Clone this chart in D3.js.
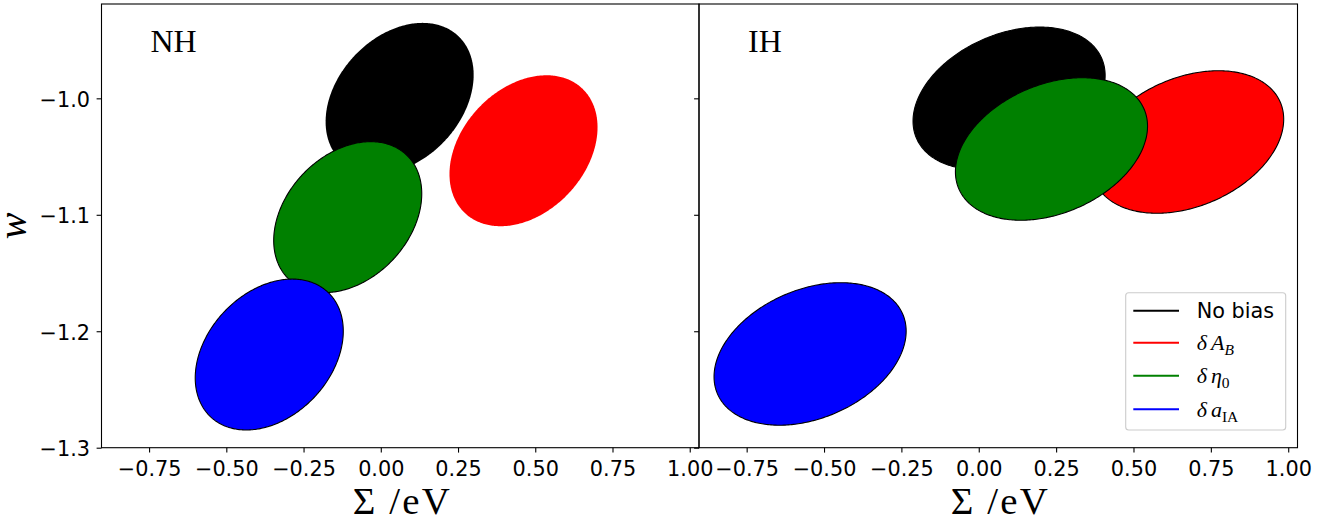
<!DOCTYPE html>
<html><head><meta charset="utf-8">
<script src="https://cdn.jsdelivr.net/npm/d3@7"></script>
<style>body{margin:0;background:#fff} svg{display:block}</style>
</head><body>
<svg id="c" width="1335" height="525"></svg>
<script>
// ---------------- data ----------------
const panels = ["NH", "IH"];
const series = ["No bias", "δA_B", "δη_0", "δa_IA"];
// ellipse centres (Σ [eV], w) per panel, in series order
const centerSigmaNH = [0.061, 0.462, -0.107, -0.361];
const centerWNH     = [-1.000, -1.045, -1.102, -1.220];
const centerSigmaIH = [0.098, 0.675, 0.235, -0.545];
const centerWIH     = [-1.000, -1.0375, -1.0435, -1.2195];
// ellipse half-extents and correlation per panel [NH, IH]
const halfExtentSigma = [0.2396, 0.3104];
const halfExtentW     = [0.0648, 0.0612];
const correlation     = [0.31, 0.32];
// axes
const xDomain = [-0.904, 1.030];
const yDomain = [-1.3, -0.919];
const xTicks = [-0.75, -0.5, -0.25, 0, 0.25, 0.5, 0.75, 1.0];
const yTicks = [-1.0, -1.1, -1.2, -1.3];

// ---------------- style ----------------
const colors = ["#000000", "#ff0000", "#008000", "#0000ff"];
const edgeless = { "NH": [true, true, false, false], "IH": [false, false, false, false] };
const panelBoxes = [{x0: 101.5, x1: 699}, {x0: 699, x1: 1297.5}];
const yTop = 4, yBot = 447.7;
const tickFont = "'DejaVu Sans', sans-serif";
const serif = "'Liberation Serif', 'Times New Roman', serif";

const svg = d3.select("#c");
const centers = {
  NH: {s: centerSigmaNH, w: centerWNH},
  IH: {s: centerSigmaIH, w: centerWIH}
};

const y = d3.scaleLinear().domain(yDomain).range([yBot, yTop]);

panels.forEach((p, pi) => {
  const box = panelBoxes[pi];
  const x = d3.scaleLinear().domain(xDomain).range([box.x0, box.x1]);
  const g = svg.append("g");
  const clipId = "clip" + pi;
  svg.append("clipPath").attr("id", clipId).append("rect")
    .attr("x", box.x0).attr("y", yTop).attr("width", box.x1 - box.x0).attr("height", yBot - yTop);

  const plot = g.append("g").attr("clip-path", `url(#${clipId})`);
  const sx = halfExtentSigma[pi], sw = halfExtentW[pi], rho = correlation[pi];
  const ts = d3.range(0, 360, 1).map(d => d * Math.PI / 180);
  const line = d3.line().x(d => x(d[0])).y(d => y(d[1])).curve(d3.curveLinearClosed);
  series.forEach((s, si) => {
    const cx = centers[p].s[si], cw = centers[p].w[si];
    const pts = ts.map(t => [cx + sx * Math.cos(t),
                             cw + sw * (rho * Math.cos(t) + Math.sqrt(1 - rho * rho) * Math.sin(t))]);
    plot.append("path").attr("d", line(pts))
      .attr("fill", colors[si])
      .attr("stroke", edgeless[p][si] ? "none" : "#000")
      .attr("stroke-width", 1.1);
  });

  // frame
  g.append("rect").attr("x", box.x0).attr("y", yTop)
    .attr("width", box.x1 - box.x0).attr("height", yBot - yTop)
    .attr("fill", "none").attr("stroke", "#000").attr("stroke-width", 1.1);

  // x axis
  const xa = g.append("g").attr("transform", `translate(0,${yBot})`)
    .call(d3.axisBottom(x).tickValues(xTicks).tickFormat(d3.format(".2f")).tickSize(4.9).tickPadding(8.6));
  xa.select(".domain").remove();
  xa.selectAll("line").attr("stroke", "#000").attr("stroke-width", 1.1);
  xa.selectAll("text").attr("font-family", tickFont).attr("font-size", 20.8).attr("fill", "#000");

  // y axis
  const ya = g.append("g").attr("transform", `translate(${box.x0},0)`)
    .call(d3.axisLeft(y).tickValues(yTicks).tickFormat(pi === 0 ? d3.format(".1f") : () => "").tickSize(4.9).tickPadding(6.6));
  ya.select(".domain").remove();
  ya.selectAll("line").attr("stroke", "#000").attr("stroke-width", 1.1);
  ya.selectAll("text").attr("font-family", tickFont).attr("font-size", 20.8).attr("fill", "#000").attr("dy", "0.38em");

  // panel label
  g.append("text").attr("x", box.x0 + 49).attr("y", 52.3)
    .attr("font-family", serif).attr("font-size", 32).text(p);

  // x label
  g.append("text").attr("x", (box.x0 + box.x1) / 2 + 1).attr("y", 514)
    .attr("text-anchor", "middle").attr("font-family", serif).attr("font-size", 38.9)
    .attr("textLength", 97).attr("lengthAdjust", "spacing")
    .text("Σ /eV");
});

// y label
svg.append("text").attr("transform", `translate(26,226) rotate(-90)`)
  .attr("text-anchor", "middle").attr("font-family", serif).attr("font-style", "italic")
  .attr("font-size", 40).text("w");

// legend
const leg = svg.append("g");
leg.append("rect").attr("x", 1125.7).attr("y", 292.7).attr("width", 160).attr("height", 137.3)
  .attr("rx", 3).attr("fill", "#fff").attr("fill-opacity", 0.8).attr("stroke", "#cccccc").attr("stroke-width", 1.1);
const rowY = [310.7, 342.7, 375.7, 409.3];
series.forEach((s, si) => {
  leg.append("line").attr("x1", 1133.3).attr("x2", 1179).attr("y1", rowY[si]).attr("y2", rowY[si])
    .attr("stroke", colors[si]).attr("stroke-width", 2.1);
  const t = leg.append("text").attr("x", 1196.7).attr("y", rowY[si] + 7.2).attr("font-size", 20.8);
  if (si === 0) {
    t.attr("font-family", tickFont).text(s);
  } else {
    const [main, sub] = s.slice(1).split("_");
    t.attr("font-family", serif).attr("font-size", 22);
    t.append("tspan").attr("font-style", "italic").text("δ");
    t.append("tspan").attr("font-style", "italic").attr("dx", 4).text(main);
    t.append("tspan").attr("font-style", /^[0-9A-Z]{2,}$|^[0-9]$/.test(sub) ? "normal" : "italic")
      .attr("font-size", 15.5).attr("dy", 5).text(sub);
  }
});
</script>
</body></html>
